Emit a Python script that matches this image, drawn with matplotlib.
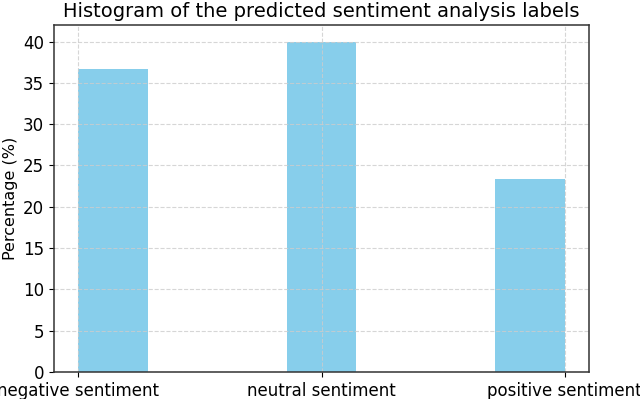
import matplotlib
matplotlib.use("Agg")
import matplotlib.pyplot as plt

# data: predicted labels as category counts (percent of 30 samples)
categories = ["negative sentiment", "neutral sentiment", "positive sentiment"]
counts = [11, 12, 7]

total = sum(counts)
labels = []
weights = []
for cat, c in zip(categories, counts):
    labels += [cat] * c
    weights += [100.0 / total] * c

fig = plt.figure(figsize=(6.4, 3.99), dpi=100)
ax = fig.add_axes([54 / 640, 1 - 372 / 399, 535 / 640, 347 / 399])

ax.hist(labels, bins=7, weights=weights, color="skyblue")
ax.set_title("Histogram of the predicted sentiment analysis labels", fontsize=14)
ax.set_ylabel("Percentage (%)", fontsize=11.5)
ax.tick_params(labelsize=12)
ax.grid(True, linestyle="--", color="#cccccc", alpha=0.8)
for s in ax.spines.values():
    s.set_color("#333333")
    s.set_linewidth(1.1)

fig.savefig("out.png", dpi=100)
